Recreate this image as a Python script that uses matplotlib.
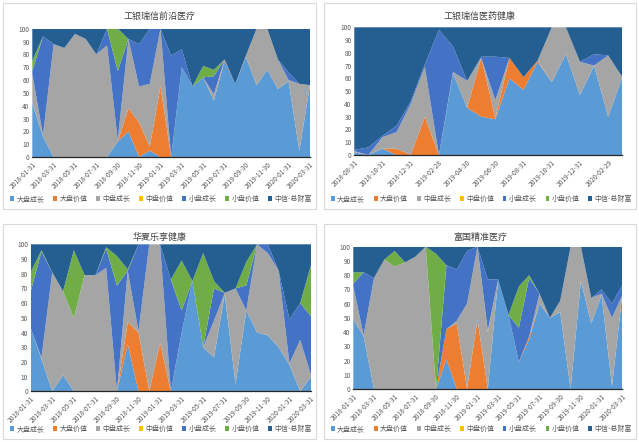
import matplotlib
matplotlib.use("Agg")
import matplotlib.pyplot as plt
from matplotlib.patches import Rectangle
import pandas as pd

plt.rcParams["font.family"] = ["Noto Sans CJK SC", "DejaVu Sans"]

series_names = ["大盘成长", "大盘价值", "中盘成长", "中盘价值", "小盘成长", "小盘价值", "中信-总财富"]
series_colors = ["#5B9BD5", "#ED7D31", "#A5A5A5", "#FFC000", "#4472C4", "#70AD47", "#255E91"]

# month-end dates for each fund
dates_a = pd.date_range("2018-01-31", "2020-03-31", freq="ME").strftime("%Y-%m-%d").tolist()
dates_b = pd.date_range("2018-08-31", "2020-03-31", freq="ME").strftime("%Y-%m-%d").tolist()

# 工银瑞信前沿医疗
f1_lg = [42, 16, 0, 0, 0, 0, 0, 0, 12, 20, 0, 5, 0, 0, 70, 55, 62, 44, 75, 57, 78, 56, 68, 53, 59, 5, 56]
f1_lv = [0, 0, 0, 0, 0, 0, 0, 0, 0, 18, 27, 3, 55, 0, 0, 0, 0, 0, 1, 0, 0, 0, 0, 0, 0, 0, 0]
f1_mg = [23, 1, 88, 85, 96, 92, 80, 87, 1, 54, 28, 49, 45, 0, 0, 0, 0, 5, 0, 0, 1, 44, 32, 23, 1, 52, 0]
f1_mv = [0] * 27
f1_sg = [2, 77, 0, 0, 0, 0, 0, 13, 54, 0, 33, 43, 0, 79, 14, 0, 0, 14, 0, 0, 0, 0, 0, 0, 6, 0, 0]
f1_sv = [8, 0, 0, 0, 0, 0, 0, 0, 33, 0, 0, 0, 0, 0, 0, 0, 9, 5, 0, 0, 0, 0, 0, 0, 0, 0, 0]
f1_zx = [25, 6, 12, 15, 4, 8, 20, 0, 0, 8, 12, 0, 0, 21, 16, 45, 29, 32, 24, 43, 21, 0, 0, 24, 34, 43, 44]

# 工银瑞信医药健康
f2_lg = [2, 0, 5, 0, 0, 0, 0, 64, 37, 30, 28, 60, 51, 73, 57, 79, 47, 70, 30, 61]
f2_lv = [0, 0, 0, 5, 0, 30, 0, 0, 0, 46, 1, 16, 10, 1, 0, 0, 0, 0, 0, 0]
f2_mg = [1, 0, 9, 13, 40, 39, 0, 1, 21, 0, 14, 0, 0, 0, 43, 21, 26, 0, 48, 0]
f2_mv = [0] * 20
f2_sg = [1, 6, 1, 5, 2, 2, 98, 20, 0, 1, 34, 0, 0, 0, 0, 0, 0, 9, 0, 0]
f2_sv = [0] * 20
f2_zx = [96, 94, 85, 77, 58, 29, 2, 15, 42, 23, 23, 24, 39, 26, 0, 0, 27, 21, 22, 39]

# 华夏乐享健康
f3_lg = [43, 22, 0, 11, 0, 0, 0, 0, 0, 32, 0, 0, 0, 0, 40, 75, 30, 23, 66, 5, 55, 40, 38, 30, 18, 0, 10]
f3_lv = [0, 0, 0, 0, 0, 0, 0, 0, 0, 15, 40, 0, 33, 0, 0, 0, 0, 0, 1, 0, 0, 0, 0, 0, 0, 0, 0]
f3_mg = [0, 1, 81, 57, 50, 79, 79, 84, 0, 35, 1, 100, 67, 0, 0, 0, 0, 25, 0, 65, 0, 60, 56, 52, 1, 35, 1]
f3_mv = [0] * 27
f3_sg = [25, 72, 0, 0, 0, 0, 0, 13, 72, 0, 59, 0, 0, 76, 15, 0, 0, 22, 0, 0, 17, 0, 6, 0, 30, 25, 40]
f3_sv = [13, 1, 0, 0, 46, 0, 0, 1, 20, 1, 0, 0, 0, 0, 34, 0, 64, 5, 0, 0, 16, 0, 0, 0, 0, 0, 35]
f3_zx = [19, 4, 19, 32, 4, 21, 21, 2, 8, 17, 0, 0, 0, 24, 11, 25, 6, 25, 33, 30, 12, 0, 0, 18, 51, 40, 14]

# 富国精准医疗
f4_lg = [49, 37, 0, 0, 0, 0, 0, 0, 0, 21, 0, 0, 0, 0, 77, 52, 19, 35, 60, 50, 54, 0, 76, 46, 66, 2, 66]
f4_lv = [0, 0, 0, 0, 0, 0, 0, 0, 0, 21, 46, 0, 49, 0, 0, 0, 0, 2, 0, 0, 0, 0, 0, 0, 0, 0, 0]
f4_mg = [23, 1, 78, 91, 86, 89, 93, 100, 0, 0, 2, 60, 51, 40, 0, 0, 0, 0, 7, 0, 8, 100, 24, 18, 1, 48, 0]
f4_mv = [0, 0, 0, 0, 0, 0, 0, 0, 0, 0, 0, 0, 0, 1, 0, 0, 0, 0, 0, 0, 0, 0, 0, 0, 0, 0, 0]
f4_sg = [2, 44, 0, 0, 0, 0, 0, 0, 0, 45, 36, 37, 0, 36, 0, 0, 24, 41, 0, 0, 0, 0, 0, 0, 3, 10, 7]
f4_sv = [8, 0, 0, 0, 11, 0, 0, 0, 95, 0, 0, 0, 0, 0, 0, 0, 29, 2, 0, 0, 0, 0, 0, 0, 0, 0, 0]
f4_zx = [18, 18, 22, 9, 3, 11, 7, 0, 5, 13, 16, 3, 0, 23, 23, 48, 28, 20, 33, 50, 38, 0, 0, 36, 30, 40, 27]

W, H = 639, 442
fig = plt.figure(figsize=(W / 100, H / 100), dpi=100)


def px_rect(x0, y0, x1, y1):
    return [x0 / W, 1 - y1 / H, (x1 - x0) / W, (y1 - y0) / H]


def draw_panel(box, plot, title, dates, series):
    bx0, by0, bx1, by1 = box
    # light grey frame around each chart
    fig.patches.append(Rectangle((bx0 / W, 1 - by1 / H), (bx1 - bx0) / W, (by1 - by0) / H,
                                 transform=fig.transFigure, facecolor="none",
                                 edgecolor="#D9D9D9", linewidth=0.8, zorder=-1))
    ax = fig.add_axes(px_rect(*plot))
    ax.set_facecolor("none")
    x = list(range(len(dates)))
    polys = ax.stackplot(x, *series, colors=series_colors, labels=series_names, linewidth=0)
    ax.set_xlim(0, len(dates) - 1)
    ax.set_ylim(0, 100)
    ax.set_yticks(range(0, 101, 10))
    ax.set_xticks(x[::2])
    ax.set_xticklabels(dates[::2], rotation=45, ha="right", rotation_mode="anchor")
    ax.tick_params(axis="x", length=0, labelsize=4.8, colors="#595959", pad=2.5)
    ax.tick_params(axis="y", length=0, labelsize=4.6, colors="#595959", pad=2)
    for side in ["top", "right", "left"]:
        ax.spines[side].set_visible(False)
    ax.spines["bottom"].set_color("#262626")
    ax.spines["bottom"].set_linewidth(0.9)
    cx = (bx0 + bx1) / 2 / W
    fig.text(cx, 1 - (by0 + 13) / H, title, ha="center", va="center", fontsize=6.5, color="#404040")
    fig.legend(polys, series_names, loc="center", bbox_to_anchor=(cx + 1.5 / W, 1 - (by1 - 10) / H),
               ncol=7, frameon=False, fontsize=5, handlelength=0.55, handleheight=0.55,
               handletextpad=0.35, columnspacing=1.25, labelcolor="#595959")
    return ax


draw_panel((3, 3, 316, 209), (32.3, 28.7, 310, 157), "工银瑞信前沿医疗", dates_a,
           [f1_lg, f1_lv, f1_mg, f1_mv, f1_sg, f1_sv, f1_zx])
draw_panel((324, 3, 636, 209), (354.3, 27.3, 622.3, 155), "工银瑞信医药健康", dates_b,
           [f2_lg, f2_lv, f2_mg, f2_mv, f2_sg, f2_sv, f2_zx])
draw_panel((3, 224, 316, 439), (30.7, 244.3, 311, 391.3), "华夏乐享健康", dates_a,
           [f3_lg, f3_lv, f3_mg, f3_mv, f3_sg, f3_sv, f3_zx])
draw_panel((324, 224, 636, 439), (353.3, 246.7, 622.3, 389), "富国精准医疗", dates_a,
           [f4_lg, f4_lv, f4_mg, f4_mv, f4_sg, f4_sv, f4_zx])

fig.savefig("out.png", dpi=100)
